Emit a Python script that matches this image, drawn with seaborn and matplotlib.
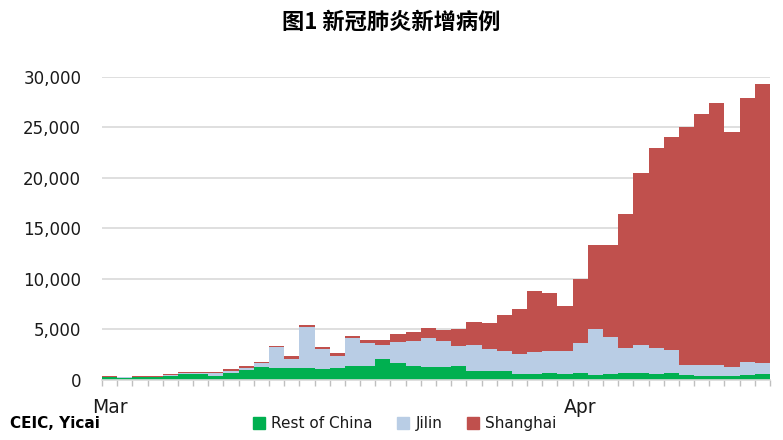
import numpy as np
import pandas as pd
import matplotlib.pyplot as plt
import seaborn as sns
from matplotlib.patches import Patch

# daily new cases, 1 Mar - 13 Apr 2022
days = pd.date_range('2022-03-01', '2022-04-13', freq='D')
rest_of_china = [300, 230, 320, 320, 430, 600, 600, 400, 670, 970,
                 1270, 1170, 1170, 1170, 1100, 1200, 1400, 1400, 2050, 1670,
                 1400, 1270, 1300, 1400, 930, 930, 850, 600, 640, 730,
                 600, 730, 500, 600, 730, 730, 600, 730, 500, 430,
                 430, 430, 530, 600]
jilin = [30, 30, 20, 20, 40, 50, 80, 300, 230, 200,
         400, 2100, 930, 4100, 1930, 1220, 2720, 2250, 1450, 2060,
         2490, 2850, 2600, 1930, 2550, 2100, 2050, 1950, 2140, 2170,
         2300, 2900, 4570, 3670, 2440, 2740, 2530, 2270, 1000, 1070,
         1070, 840, 1240, 1070]
shanghai = [70, 40, 60, 60, 100, 120, 90, 100, 230, 200,
            100, 130, 230, 130, 200, 250, 230, 350, 500, 800,
            860, 990, 1020, 1670, 2290, 2640, 3560, 4520, 6050, 5730,
            4430, 6370, 8260, 9060, 13300, 17000, 19850, 21100, 23550, 24800,
            25950, 23300, 26150, 27600]

regions = ['Rest of China', 'Jilin', 'Shanghai']
colors = {'Rest of China': '#00B050', 'Jilin': '#B9CDE5', 'Shanghai': '#C0504D'}

n = len(days)
df = pd.DataFrame({
    'day': np.tile(np.arange(n), 3),
    'region': np.repeat(regions, n),
    'cases': rest_of_china + jilin + shanghai,
})

sns.set_style('white')
plt.rcParams['font.family'] = ['DejaVu Sans']
plt.rcParams['text.color'] = '#1a1a1a'

fig = plt.figure(figsize=(7.83, 4.4), dpi=100)
ax = fig.add_axes([0.1303, 0.1364, 0.8531, 0.6886])

# seaborn stacks the first hue level on top
sns.histplot(data=df, x='day', weights='cases', hue='region',
             hue_order=regions[::-1], palette=colors, multiple='stack',
             discrete=True, shrink=1, linewidth=0, alpha=1, ax=ax, legend=False)

ax.set_xlim(-0.5, n - 0.5)
ax.set_ylim(0, 30000)
ax.set_yticks(range(0, 30001, 5000))
ax.set_yticklabels([f'{v:,}' for v in range(0, 30001, 5000)], fontsize=12, color='#1a1a1a')
ax.yaxis.grid(True, color='#D9D9D9', linewidth=1.2)
ax.set_axisbelow(True)
ax.tick_params(axis='y', length=0, pad=15)

# month labels on the 1st, small ticks between days
month_pos = [0, 31]
ax.set_xticks(month_pos)
ax.set_xticklabels(['Mar', 'Apr'], fontsize=13.5, color='#1a1a1a')
ax.set_xticks(np.arange(n + 1) - 0.5, minor=True)
ax.tick_params(axis='x', which='major', length=0, pad=13)
ax.tick_params(axis='x', which='minor', length=4, width=1, color='#BFBFBF', bottom=True)
ax.set_xlabel('')
ax.set_ylabel('')

for s in ['top', 'right', 'left']:
    ax.spines[s].set_visible(False)
ax.spines['bottom'].set_color('#D9D9D9')
ax.spines['bottom'].set_linewidth(1.2)

fig.text(0.5, 0.95, '图1 新冠肺炎新增病例', ha='center', va='center', color='black',
         fontsize=16, fontweight='bold', family=['Noto Sans CJK SC', 'DejaVu Sans'])
fig.text(0.013, 0.037, 'CEIC, Yicai', ha='left', va='center', fontsize=11,
         fontweight='bold', color='black')

handles = [Patch(color=colors[r], label=r) for r in regions]
fig.legend(handles=handles, loc='center', bbox_to_anchor=(0.517, 0.037), ncol=3,
           frameon=False, fontsize=11, handlelength=0.8, handleheight=0.8,
           handletextpad=0.4, columnspacing=1.6)

plt.savefig('out.png', dpi=100)
